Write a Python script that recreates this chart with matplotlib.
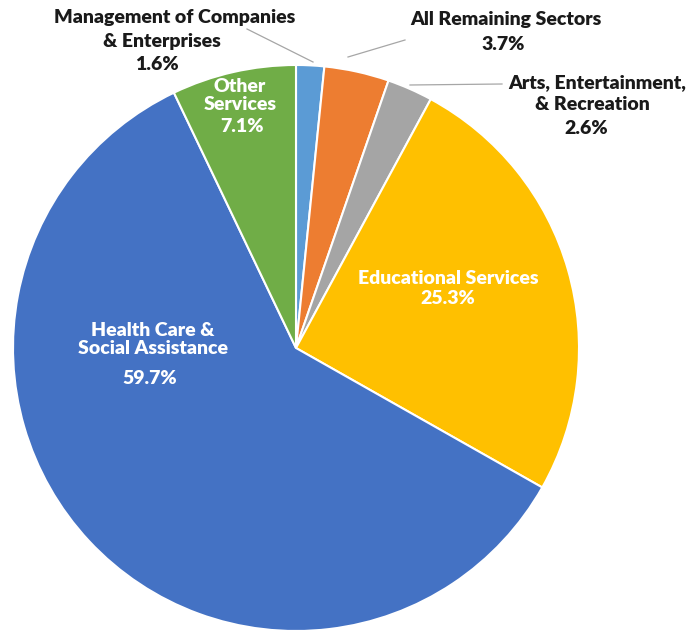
import matplotlib
matplotlib.use("Agg")
import matplotlib.pyplot as plt

# Share of employment by sector
sectors = [
    "Management of Companies & Enterprises",
    "All Remaining Sectors",
    "Arts, Entertainment, & Recreation",
    "Educational Services",
    "Health Care & Social Assistance",
    "Other Services",
]
shares = [1.6, 3.7, 2.6, 25.3, 59.7, 7.1]
colors = ["#5B9BD5", "#ED7D31", "#A5A5A5", "#FFC000", "#4472C4", "#70AD47"]

W, H = 696, 632
fig = plt.figure(figsize=(W / 100, H / 100), dpi=100)
ax = fig.add_axes([0, 0, 1, 1])

cx, cy, r = 296, H - 348, 283
ax.pie(shares, colors=colors, startangle=90, counterclock=False,
       center=(cx, cy), radius=r, frame=True,
       wedgeprops=dict(edgecolor="white", linewidth=1.5))
ax.set_xlim(0, W)
ax.set_ylim(0, H)
ax.set_aspect("equal")
ax.axis("off")

font = dict(family=["Lato", "DejaVu Sans"], fontweight="heavy", fontsize=14,
            ha="center", va="center")

def put(lines, color):
    for txt, x, y in lines:
        ax.text(x, H - y, txt, color=color, **font)

# outside labels
put([("Management of Companies", 175, 18), ("& Enterprises", 162, 41),
     (f"{shares[0]}%", 157, 64)], "#1a1a1a")
put([("All Remaining Sectors", 506, 20), (f"{shares[1]}%", 503, 44)], "#1a1a1a")
put([("Arts, Entertainment,", 597, 83), ("& Recreation", 592, 104),
     (f"{shares[2]}%", 586, 128)], "#1a1a1a")

# inside labels
put([("Other", 240, 86), ("Services", 240, 104), (f"{shares[5]}%", 242, 127)], "white")
put([("Educational Services", 448, 278), (f"{shares[3]}%", 448, 299)], "white")
put([("Health Care &", 153, 330), ("Social Assistance", 153, 349),
     (f"{shares[4]}%", 150, 378)], "white")

# leader lines
lc = dict(color="#a6a6a6", linewidth=0.9)
ax.plot([247, 313], [H - 29, H - 62], **lc)
ax.plot([348, 405], [H - 57, H - 40], **lc)
ax.plot([410, 502], [H - 85, H - 84], **lc)

fig.savefig("out.png", dpi=100, facecolor="white")
